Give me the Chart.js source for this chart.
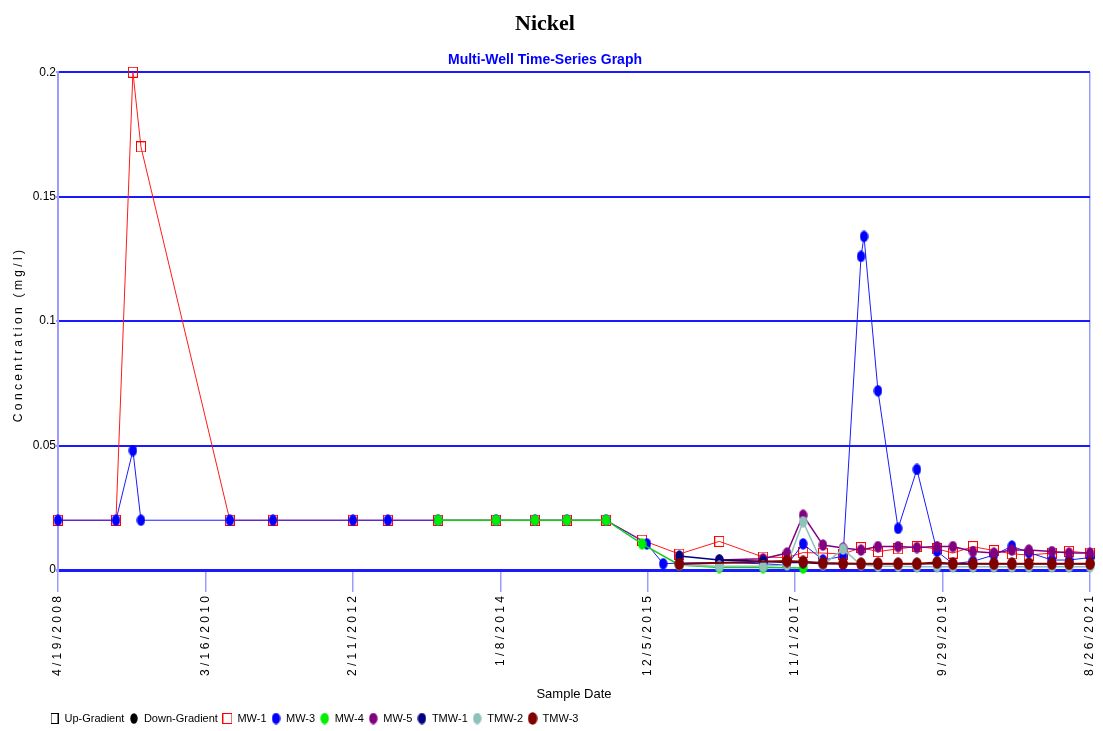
<!DOCTYPE html>
<html>
<head>
<meta charset="utf-8">
<script src="https://cdn.jsdelivr.net/npm/chart.js@4/dist/chart.umd.min.js"></script>
<style>
  html, body { margin: 0; padding: 0; background: #ffffff; }
  #wrap { width: 1103px; height: 731px; }
</style>
</head>
<body>
<div id="wrap"><canvas id="chart"></canvas></div>
<script>
// ============================================
// DATA
// ============================================
const xTickLabels = ['4/19/2008', '3/16/2010', '2/11/2012', '1/8/2014', '12/5/2015', '11/1/2017', '9/29/2019', '8/26/2021'];

const sampleDates = [
  '2008-04-19', '2009-01-18', '2009-04-08', '2009-05-16', '2010-07-10', '2011-01-30', '2012-02-12', '2012-07-26',
  '2013-03-20', '2013-12-19', '2014-06-21', '2014-11-19', '2015-05-23', '2015-11-09', '2015-12-02', '2016-02-17',
  '2016-05-03', '2016-11-08', '2017-06-03', '2017-09-24', '2017-12-09', '2018-03-13', '2018-06-16', '2018-09-09',
  '2018-09-23', '2018-11-28', '2019-03-03', '2019-05-31', '2019-09-03', '2019-11-17', '2020-02-20', '2020-05-29',
  '2020-08-22', '2020-11-10', '2021-02-27', '2021-05-19', '2021-08-26'
];

const mw1 = [0.02, 0.02, 0.2, 0.17, 0.02, 0.02, 0.02, 0.02,
  0.02, 0.02, 0.02, 0.02, 0.02, 0.012, null, null,
  0.0064, 0.0115, 0.0052, 0.005, 0.007, 0.0068, 0.0064, 0.009,
  null, 0.0074, 0.0085, 0.0094, 0.0085, 0.0068, 0.0094, 0.0078,
  0.0065, 0.006, 0.0068, 0.0075, 0.0068];
const mw3 = [0.02, 0.02, 0.048, 0.02, 0.02, 0.02, 0.02, 0.02,
  0.02, 0.02, 0.02, 0.02, 0.02, null, 0.0105, 0.0025,
  0.0028, 0.003, 0.0025, 0.002, 0.0105, 0.004, 0.0055, 0.126,
  0.134, 0.072, 0.0167, 0.0404, 0.0075, 0.0025, 0.0035, 0.006,
  0.0096, 0.007, 0.004, 0.004, 0.005];
const mw4 = [null, null, null, null, null, null, null, null,
  0.02, 0.02, 0.02, 0.02, 0.02, 0.0105, null, null,
  0.002, 0.001, 0.001, null, 0.0008, null, null, null,
  null, null, null, null, null, null, null, null,
  null, null, null, null, null];
const mw5 = [null, null, null, null, null, null, null, null,
  null, null, null, null, null, null, null, null,
  null, 0.004, 0.0045, 0.0068, 0.022, 0.01, 0.0088, 0.008,
  null, 0.0094, 0.0094, 0.009, 0.0094, 0.0094, 0.0074, 0.0068,
  0.008, 0.008, 0.0074, 0.0068, 0.0068];
const tmw1 = [null, null, null, null, null, null, null, null,
  null, null, null, null, null, null, null, null,
  0.0056, 0.004, 0.0035, 0.003, 0.003, 0.0025, 0.0025, 0.0025,
  null, 0.0025, 0.0025, 0.0025, 0.0025, 0.0025, 0.0025, 0.0025,
  0.0025, 0.0025, 0.0025, 0.0025, 0.0025];
const tmw2 = [null, null, null, null, null, null, null, null,
  null, null, null, null, null, null, null, null,
  0.002, 0.0015, 0.0015, 0.002, 0.0194, 0.002, 0.0084, 0.002,
  null, 0.0015, 0.0015, 0.0013, 0.0013, 0.0013, 0.0013, 0.0013,
  0.0013, 0.0013, 0.0013, 0.0013, 0.0013];
const tmw3 = [null, null, null, null, null, null, null, null,
  null, null, null, null, null, null, null, null,
  0.0024, null, null, 0.0036, 0.0033, 0.0028, 0.0026, 0.0025,
  null, 0.0025, 0.0025, 0.0025, 0.003, 0.0025, 0.0025, 0.0025,
  0.0025, 0.0025, 0.0025, 0.0025, 0.0025];

// ============================================
// HELPERS
// ============================================
const dayMs = 86400000;
function parseIso(s) {
  const [y, m, d] = s.split('-').map(Number);
  return Date.UTC(y, m - 1, d) / dayMs;
}
function parseUs(s) {
  const [m, d, y] = s.split('/').map(Number);
  return Date.UTC(y, m - 1, d) / dayMs;
}
function spaced(s) {
  return s.split('').join(' ');
}
function toPoints(values) {
  return values.map((v, i) => ({ x: parseIso(sampleDates[i]), y: v }));
}

function ellipseMarker(color, w = 9, h = 12) {
  const c = document.createElement('canvas');
  c.width = w; c.height = h;
  const g = c.getContext('2d');
  g.fillStyle = color;
  g.beginPath();
  g.ellipse(w / 2, h / 2, w / 2 - 0.3, h / 2 - 0.3, 0, 0, Math.PI * 2);
  g.fill();
  return c;
}
function squareMarker(color, w = 10, h = 11) {
  const c = document.createElement('canvas');
  c.width = w; c.height = h;
  const g = c.getContext('2d');
  g.strokeStyle = color;
  g.lineWidth = 1;
  g.strokeRect(0.5, 0.5, w - 1, h - 1);
  return c;
}

function series(label, values, lineColor, marker, width = 1) {
  return {
    label,
    data: toPoints(values),
    borderColor: lineColor,
    backgroundColor: lineColor,
    borderWidth: width,
    pointStyle: marker,
    pointRadius: 5,
    spanGaps: true,
    tension: 0,
    clip: false
  };
}

// ============================================
// DATASETS (legend order)
// ============================================
const legendOrder = [
  { label: 'Up-Gradient', data: [], borderColor: '#000000', backgroundColor: '#000000', pointStyle: squareMarker('#000000', 8, 11) },
  { label: 'Down-Gradient', data: [], borderColor: '#000000', backgroundColor: '#000000', pointStyle: ellipseMarker('#000000', 8, 11) },
  series('MW-1', mw1, '#ff1a1a', squareMarker('#ff0000')),
  series('MW-3', mw3, '#1a1aff', ellipseMarker('#0000ff')),
  series('MW-4', mw4, '#10d010', ellipseMarker('#00ee00'), 1.5),
  series('MW-5', mw5, '#800080', ellipseMarker('#800080'), 1.5),
  series('TMW-1', tmw1, '#000080', ellipseMarker('#000080'), 1.5),
  series('TMW-2', tmw2, '#8fc1bb', ellipseMarker('#8fc1bb'), 1.5),
  series('TMW-3', tmw3, '#800000', ellipseMarker('#800000', 10, 13), 2)
];

const narrow = "'Liberation Sans Narrow', 'Arial Narrow', 'Liberation Sans', sans-serif";
const xTickValues = xTickLabels.map(parseUs);

// legend sits under the plot, a little in from the left edge
const legendShift = {
  id: 'legendShift',
  afterLayout(chart) {
    if (!chart.legend) return;
    chart.legend.left += 45;
    chart.legend.top += 3;
  }
};

new Chart(document.getElementById('chart'), {
  type: 'line',
  data: { datasets: legendOrder.slice().reverse() },
  plugins: [legendShift],
  options: {
    responsive: true,
    maintainAspectRatio: false,
    animation: false,
    events: [],
    layout: { padding: { left: 0, right: 13, top: 0, bottom: 0 } },
    plugins: {
      title: {
        display: true,
        text: 'Nickel',
        color: '#000000',
        font: { family: "'Liberation Serif', 'Times New Roman', serif", size: 22, weight: 'bold' },
        padding: { top: 11, bottom: 14 }
      },
      subtitle: {
        display: true,
        text: 'Multi-Well Time-Series Graph',
        color: '#0000ff',
        font: { family: narrow, size: 14, weight: 'bold' },
        padding: { top: 0, bottom: 4 }
      },
      legend: {
        display: true,
        position: 'bottom',
        align: 'start',
        labels: {
          usePointStyle: true,
          boxWidth: 9,
          padding: 5,
          color: '#000000',
          font: { family: narrow, size: 11 },
          sort: (a, b) => b.datasetIndex - a.datasetIndex
        }
      },
      tooltip: { enabled: false }
    },
    scales: {
      x: {
        type: 'linear',
        min: parseUs(xTickLabels[0]),
        max: parseUs(xTickLabels[xTickLabels.length - 1]),
        afterBuildTicks: (scale) => {
          scale.ticks = xTickValues.map(v => ({ value: v }));
        },
        afterFit: (scale) => {
          scale.height = 135;
          scale.paddingLeft = 0;
          scale.paddingRight = 0;
        },
        ticks: {
          autoSkip: false,
          maxRotation: 90,
          minRotation: 90,
          padding: 4,
          color: '#000000',
          font: { family: "'Liberation Sans', Arial, sans-serif", size: 12 },
          callback: (v) => {
            const i = xTickValues.indexOf(v);
            return i >= 0 ? spaced(xTickLabels[i]) : '';
          }
        },
        grid: {
          drawOnChartArea: true,
          color: (ctx) => (ctx.index === 0 || ctx.index === xTickValues.length - 1) ? '#9c9cff' : 'rgba(0,0,0,0)',
          tickColor: '#9c9cff',
          lineWidth: 1.5,
          tickLength: 22
        },
        border: { display: true, color: '#1a1aff', width: 3 },
        title: {
          display: true,
          text: 'Sample Date',
          color: '#000000',
          font: { family: narrow, size: 13 },
          padding: { top: 0, bottom: 3 }
        }
      },
      y: {
        min: 0,
        max: 0.2,
        afterFit: (scale) => { scale.width = 58; },
        ticks: {
          stepSize: 0.05,
          padding: 0,
          color: '#000000',
          font: { family: narrow, size: 12 },
          callback: (v) => String(Math.round(v * 100) / 100)
        },
        grid: {
          color: '#1a1aff',
          lineWidth: (ctx) => ctx.index === 0 ? 3 : 2,
          tickColor: '#9c9cff',
          tickLength: 2
        },
        border: { display: true, color: '#9c9cff', width: 2 },
        title: {
          display: true,
          // trailing spaces nudge the visible text a little lower, as in the original
          text: spaced('Concentration') + '   ' + spaced('(mg/l)') + '         ',
          color: '#000000',
          font: { family: "'Liberation Sans', Arial, sans-serif", size: 12 },
          padding: { top: 11, bottom: 0 }
        }
      }
    }
  }
});
</script>
</body>
</html>
